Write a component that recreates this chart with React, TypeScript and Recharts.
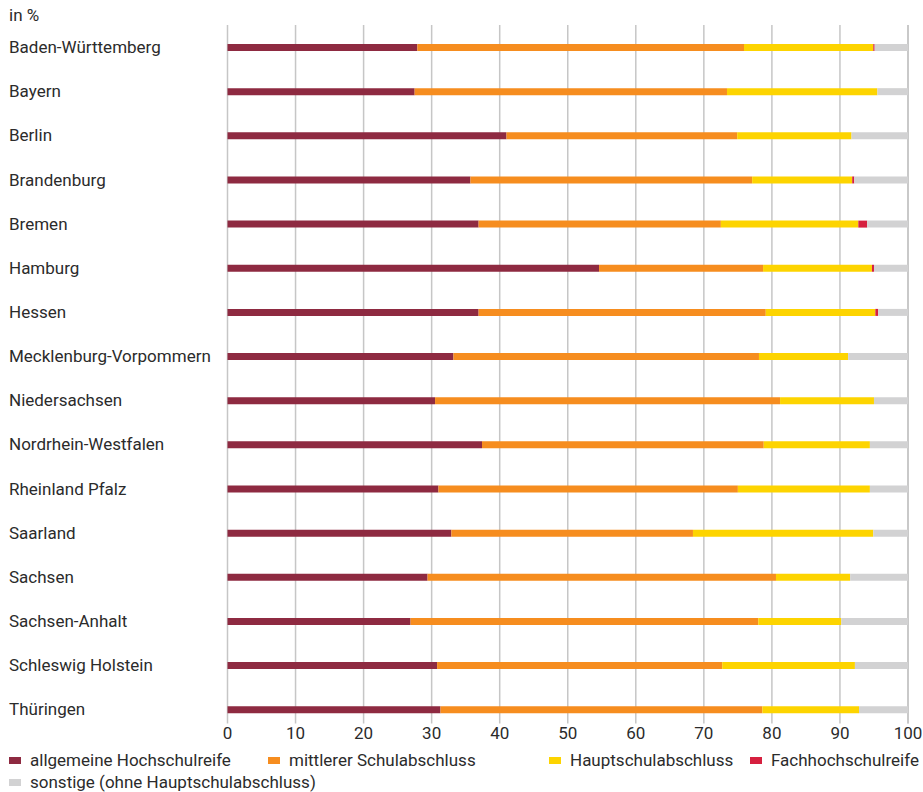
import React from "react";
import { BarChart, Bar, XAxis, YAxis, CartesianGrid } from "recharts";

const categories = [
  "Baden-Württemberg",
  "Bayern",
  "Berlin",
  "Brandenburg",
  "Bremen",
  "Hamburg",
  "Hessen",
  "Mecklenburg-Vorpommern",
  "Niedersachsen",
  "Nordrhein-Westfalen",
  "Rheinland Pfalz",
  "Saarland",
  "Sachsen",
  "Sachsen-Anhalt",
  "Schleswig Holstein",
  "Thüringen",
];

const allgemeine = [27.9, 27.5, 41.0, 35.7, 36.9, 54.6, 36.9, 33.2, 30.5, 37.4, 31.0, 32.9, 29.4, 26.9, 30.8, 31.3];
const mittlerer = [48.0, 45.9, 33.9, 41.4, 35.6, 24.1, 42.2, 44.9, 50.7, 41.4, 44.0, 35.5, 51.2, 51.1, 41.9, 47.3];
const haupt = [19.0, 22.1, 16.8, 14.7, 20.2, 16.0, 16.1, 13.1, 13.8, 15.6, 19.4, 26.5, 10.9, 12.2, 19.5, 14.2];
const fach = [0.2, 0, 0, 0.3, 1.3, 0.3, 0.4, 0, 0, 0, 0, 0, 0, 0, 0, 0];
const sonstige = [4.9, 4.5, 8.3, 7.9, 6.0, 5.0, 4.4, 8.8, 5.0, 5.6, 5.6, 5.1, 8.5, 9.8, 7.8, 7.2];

const xTicks = [0, 10, 20, 30, 40, 50, 60, 70, 80, 90, 100];

const series = [
  { key: "allgemeine", name: "allgemeine Hochschulreife", color: "#8E2A41" },
  { key: "mittlerer", name: "mittlerer Schulabschluss", color: "#F68D1F" },
  { key: "haupt", name: "Hauptschulabschluss", color: "#FDD400" },
  { key: "fach", name: "Fachhochschulreife", color: "#D6203F" },
  { key: "sonstige", name: "sonstige (ohne Hauptschulabschluss)", color: "#D2D2D3" },
];

const data = categories.map((c, i) => ({
  name: c,
  allgemeine: allgemeine[i],
  mittlerer: mittlerer[i],
  haupt: haupt[i],
  fach: fach[i],
  sonstige: sonstige[i],
}));

const FONT = "Roboto, 'Noto Sans', sans-serif";
const TEXT = "#2b2b2b";

const legendPos = [
  { left: 9, top: 760 },
  { left: 268, top: 760 },
  { left: 549, top: 760 },
  { left: 750, top: 760 },
  { left: 9, top: 782 },
];

const YTick = (props: any) => {
  const { y, payload } = props;
  return (
    <text x={9} y={y} dominantBaseline="central" textAnchor="start" fontFamily={FONT} fontSize={17} fill={TEXT}>
      {payload.value}
    </text>
  );
};

const gridLine = (props: any) => (
  <line
    key={`g-${props.x1}-${props.index}`}
    x1={props.x1}
    x2={props.x2}
    y1={props.y1}
    y2={props.y2 - 8}
    stroke="#c6c6c6"
    strokeWidth={1.5}
  />
);

export default function App() {
  return (
    <div
      style={{
        position: "fixed",
        left: 0,
        top: 0,
        width: 923,
        height: 792,
        overflow: "hidden",
        fontFamily: FONT,
        background: "#fff",
      }}
    >
      <div style={{ position: "absolute", left: 9, top: 5, fontSize: 17, color: TEXT, lineHeight: "20px" }}>in %</div>
      <div style={{ position: "absolute", left: 0, top: 0, width: 923, height: 792 }}>
        <BarChart
          width={923}
          height={792}
          data={data}
          layout="vertical"
          margin={{ top: 25, right: 15, bottom: 30.6, left: 0 }}
          barSize={7}
        >
          <CartesianGrid horizontal={false} vertical={gridLine} />
          <XAxis
            type="number"
            domain={[0, 100]}
            ticks={xTicks}
            axisLine={false}
            tickLine={false}
            tickSize={0}
            tickMargin={-4}
            height={30}
            interval={0}
            tick={{ fontFamily: FONT, fontSize: 17, fill: TEXT }}
          />
          <YAxis
            type="category"
            dataKey="name"
            width={227.5}
            axisLine={false}
            tickLine={false}
            interval={0}
            tick={<YTick />}
          />
          {series.map((s) => (
            <Bar key={s.key} dataKey={s.key} name={s.name} stackId="a" fill={s.color} isAnimationActive={false} />
          ))}
        </BarChart>
      </div>
      {series.map((s, i) => (
        <div
          key={s.key}
          style={{
            position: "absolute",
            left: legendPos[i].left,
            top: legendPos[i].top - 10,
            height: 20,
            display: "flex",
            alignItems: "center",
            fontSize: 17,
            color: TEXT,
            whiteSpace: "nowrap",
          }}
        >
          <span style={{ display: "inline-block", width: 12, height: 7, background: s.color, marginRight: 9 }} />
          <span>{s.name}</span>
        </div>
      ))}
    </div>
  );
}
